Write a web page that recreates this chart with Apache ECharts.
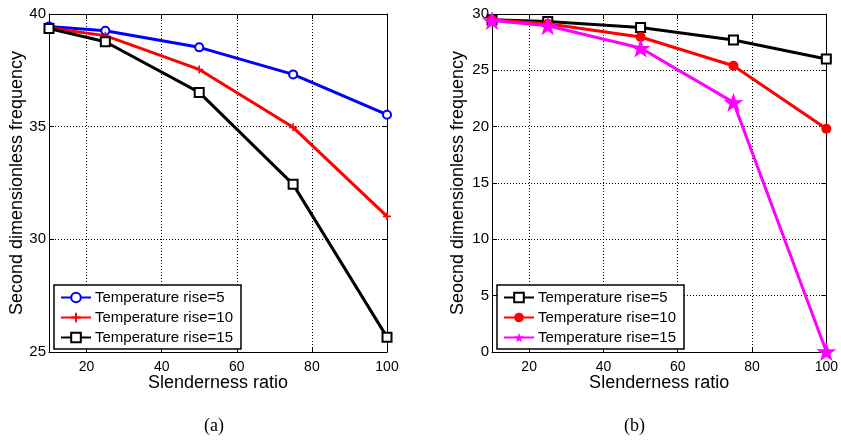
<!DOCTYPE html>
<html>
<head>
<meta charset="utf-8">
<script src="https://cdn.jsdelivr.net/npm/echarts@6/dist/echarts.min.js"></script>
<style>html,body{margin:0;padding:0;background:#fff}#c{width:841px;height:440px}</style>
</head>
<body>
<div id="c"></div>
<script>
var slenderness = [10, 25, 50, 75, 100];
var aRise5  = [39.45, 39.26, 38.52, 37.32, 35.53];
var aRise10 = [39.38, 39.04, 37.54, 34.97, 31.02];
var aRise15 = [39.36, 38.77, 36.52, 32.44, 25.66];
var bRise5  = [29.49, 29.34, 28.81, 27.69, 26.00];
var bRise10 = [29.50, 29.14, 27.96, 25.41, 19.82];
var bRise15 = [29.43, 28.96, 26.98, 22.16, 0.05];
var seriesNames = ['Temperature rise=5', 'Temperature rise=10', 'Temperature rise=15'];
var xTitle = 'Slenderness ratio';
var yTitleA = 'Second dimensionless frequency';
var yTitleB = 'Seocnd dimensionless frequency';
var panelLabels = ['(a)', '(b)'];

function pairs(v) { return slenderness.map(function (x, i) { return [x, v[i]]; }); }

var FONT = 'Liberation Sans, Arial, sans-serif';
var PLUS = 'path://M4,0 L6,0 L6,4 L10,4 L10,6 L6,6 L6,10 L4,10 L4,6 L0,6 L0,4 L4,4 Z';
var STAR = 'path://M50,0 L61.8,35.1 L97.6,34.5 L69,56 L79.4,90.5 L50,70 L20.6,90.5 L31,56 L2.4,34.5 L38.2,35.1 Z';

function xAx(g, top) {
  return {
    type: 'value', gridIndex: g, min: 10, max: 100, splitNumber: 5,
    position: top ? 'top' : 'bottom',
    name: top ? '' : xTitle, nameLocation: 'middle', nameGap: 22, nameMoveOverlap: false,
    nameTextStyle: { fontFamily: FONT, fontSize: 18, color: '#000' },
    axisLine: { show: true, onZero: false, lineStyle: { color: '#000', width: 1 } },
    axisTick: { show: true, inside: true, length: 5, lineStyle: { color: '#000' } },
    axisLabel: { show: !top, showMinLabel: false, fontFamily: FONT, fontSize: 14, color: '#000', margin: 8 },
    splitLine: { show: !top, lineStyle: { color: '#000', type: [1, 2], width: 1 } }
  };
}
function yAx(g, right, min, max, name, gap) {
  return {
    type: 'value', gridIndex: g, min: min, max: max, interval: 5,
    position: right ? 'right' : 'left',
    name: right ? '' : name, nameLocation: 'middle', nameGap: gap || 26, nameMoveOverlap: false,
    nameTextStyle: { fontFamily: FONT, fontSize: 18, color: '#000' },
    axisLine: { show: true, onZero: false, lineStyle: { color: '#000', width: 1 } },
    axisTick: { show: true, inside: true, length: 5, lineStyle: { color: '#000' } },
    axisLabel: { show: !right, fontFamily: FONT, fontSize: 15, color: '#000', margin: 3 },
    splitLine: { show: !right, lineStyle: { color: '#000', type: [1, 2], width: 1 } }
  };
}
function ser(name, g, data, color, symbol, size, fill, bw) {
  return {
    name: name, type: 'line', xAxisIndex: g, yAxisIndex: g, data: pairs(data),
    symbol: symbol, symbolSize: size, showAllSymbol: true, clip: false,
    lineStyle: { color: color, width: 3 },
    itemStyle: { color: fill, borderColor: color, borderWidth: bw },
    emphasis: { disabled: true }, animation: false
  };
}
function legend(g, left) {
  return {
    show: true, orient: 'vertical', left: left, top: 285,
    data: seriesNames.map(function (n) { return n + (g === 1 ? ' ' : ''); }),
    itemWidth: 30, itemHeight: 12, itemGap: 5,
    padding: [5, 8, 4, 6],
    borderColor: '#000', borderWidth: 1.5, backgroundColor: '#fff', borderRadius: 0,
    textStyle: { fontFamily: FONT, fontSize: 15, color: '#000', padding: [0, 0, 0, -1] },
    formatter: function (n) { return n.trim(); }
  };
}

var chart = echarts.init(document.getElementById('c'), null, { renderer: 'canvas' });
chart.setOption({
  animation: false,
  backgroundColor: '#fff',
  grid: [
    { left: 49, top: 14, width: 338, height: 338 },
    { left: 492, top: 14, width: 337, height: 338 }
  ],
  xAxis: [xAx(0, false), xAx(1, false), xAx(0, true), xAx(1, true)],
  yAxis: [yAx(0, false, 25, 40, yTitleA, 23), yAx(1, false, 0, 30, yTitleB, 25), yAx(0, true, 25, 40), yAx(1, true, 0, 30)],
  legend: [legend(0, 54), legend(1, 497)],
  series: [
    ser(seriesNames[0], 0, aRise5, '#0000ff', 'emptyCircle', 8, '#0000ff', 2),
    ser(seriesNames[1], 0, aRise10, '#ff0000', PLUS, 8, '#ff0000', 0),
    ser(seriesNames[2], 0, aRise15, '#000000', 'emptyRect', 9, '#000000', 2.5),
    ser(seriesNames[0] + ' ', 1, bRise5, '#000000', 'emptyRect', 9, '#000000', 2.5),
    ser(seriesNames[1] + ' ', 1, bRise10, '#ff0000', 'circle', 10, '#ff0000', 0),
    ser(seriesNames[2] + ' ', 1, bRise15, '#ff00ff', STAR, [20, 19], '#ff00ff', 0)
  ],
  graphic: [
    { type: 'text', left: 204, top: 417, style: { text: panelLabels[0], font: '18px "Liberation Serif", "Times New Roman", serif', fill: '#000' } },
    { type: 'text', left: 624, top: 417, style: { text: panelLabels[1], font: '18px "Liberation Serif", "Times New Roman", serif', fill: '#000' } }
  ]
});
</script>
</body>
</html>
